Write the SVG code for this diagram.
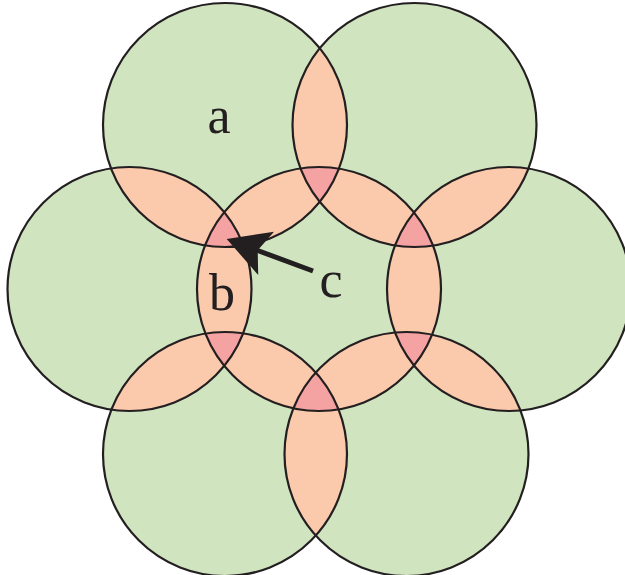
<svg xmlns="http://www.w3.org/2000/svg" width="625" height="575" viewBox="0 0 625 575">
<style>
.g{fill:#d0e4bf}
.o{fill:#fbc9ab}
.p{fill:#f4a2a2}
.s{fill:none;stroke:#231f20;stroke-width:2.2}
.t{font-family:"Liberation Serif","Times New Roman",serif;font-size:52px;fill:#231f20;text-anchor:middle}
</style>
<defs>
<circle id="c0" cx="319" cy="289" r="122"/>
<circle id="c1" cx="225" cy="125" r="122"/>
<circle id="c2" cx="414.5" cy="125" r="122"/>
<circle id="c3" cx="509" cy="289" r="122"/>
<circle id="c4" cx="406.5" cy="454" r="122"/>
<circle id="c5" cx="225" cy="454" r="122"/>
<circle id="c6" cx="129.5" cy="289" r="122"/>
<clipPath id="k0"><use href="#c0"/></clipPath>
<clipPath id="k1"><use href="#c1"/></clipPath>
<clipPath id="k2"><use href="#c2"/></clipPath>
<clipPath id="k3"><use href="#c3"/></clipPath>
<clipPath id="k4"><use href="#c4"/></clipPath>
<clipPath id="k5"><use href="#c5"/></clipPath>
<clipPath id="k6"><use href="#c6"/></clipPath>
</defs>
<g id="fills">
<use href="#c0" class="g"/><use href="#c1" class="g"/><use href="#c2" class="g"/><use href="#c3" class="g"/><use href="#c4" class="g"/><use href="#c5" class="g"/><use href="#c6" class="g"/>
</g>
<g id="doubles" class="o">
<use href="#c1" clip-path="url(#k0)"/>
<use href="#c2" clip-path="url(#k0)"/>
<use href="#c3" clip-path="url(#k0)"/>
<use href="#c4" clip-path="url(#k0)"/>
<use href="#c5" clip-path="url(#k0)"/>
<use href="#c6" clip-path="url(#k0)"/>
<use href="#c1" clip-path="url(#k2)"/>
<use href="#c2" clip-path="url(#k3)"/>
<use href="#c3" clip-path="url(#k4)"/>
<use href="#c4" clip-path="url(#k5)"/>
<use href="#c5" clip-path="url(#k6)"/>
<use href="#c6" clip-path="url(#k1)"/>
</g>
<g id="triples" class="p">
<g clip-path="url(#k0)"><use href="#c1" clip-path="url(#k2)"/></g>
<g clip-path="url(#k0)"><use href="#c2" clip-path="url(#k3)"/></g>
<g clip-path="url(#k0)"><use href="#c3" clip-path="url(#k4)"/></g>
<g clip-path="url(#k0)"><use href="#c4" clip-path="url(#k5)"/></g>
<g clip-path="url(#k0)"><use href="#c5" clip-path="url(#k6)"/></g>
<g clip-path="url(#k0)"><use href="#c6" clip-path="url(#k1)"/></g>
</g>
<g id="outlines">
<use href="#c0" class="s"/><use href="#c1" class="s"/><use href="#c2" class="s"/><use href="#c3" class="s"/><use href="#c4" class="s"/><use href="#c5" class="s"/><use href="#c6" class="s"/>
</g>
<g id="labels">
<text class="t" x="219" y="133">a</text>
<text class="t" x="222" y="310">b</text>
<text class="t" x="331" y="297">c</text>
</g>
<g id="arrow">
<line x1="313" y1="271" x2="255" y2="249.5" stroke="#231f20" stroke-width="5"/>
<path d="M226.7,239 L274,231.8 L257.7,250.3 L258.2,275 Z" fill="#231f20"/>
</g>
</svg>
